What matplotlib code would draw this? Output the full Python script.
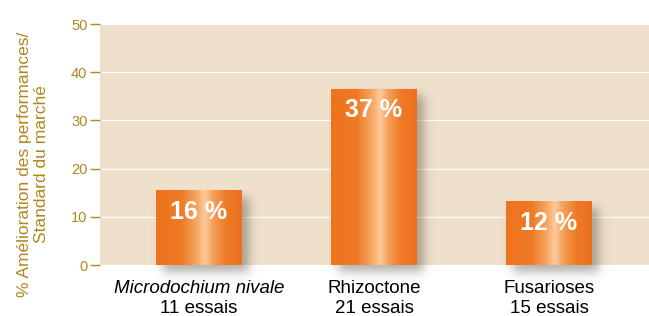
import numpy as np
import matplotlib.pyplot as plt
from matplotlib.colors import LinearSegmentedColormap

# Données
categories = ['Microdochium nivale', 'Rhizoctone', 'Fusarioses']
essais = ['11 essais', '21 essais', '15 essais']
hauteurs = [15.5, 36.5, 13.2]
etiquettes = ['16 %', '37 %', '12 %']
yticks = [0, 10, 20, 30, 40, 50]

plt.rcParams['font.family'] = ['Liberation Sans', 'DejaVu Sans']
or_fonce = '#b3861f'
fond = '#eee0cb'

fig = plt.figure(figsize=(6.49, 3.16), dpi=100)
ax = fig.add_axes([0.154, 0.161, 0.846, 0.763])
ax.set_facecolor(fond)

x = np.arange(len(categories))
largeur = 0.49
xlim = (-0.566, 2.571)
ylim = (0, 50)

# Dégradé orange des barres
cmap = LinearSegmentedColormap.from_list('orange', [
    (0.0, '#ee731e'), (0.30, '#ef7a26'), (0.48, '#f6a864'),
    (0.57, '#fdcb9e'), (0.66, '#f5a25c'), (0.82, '#ef7a26'), (1.0, '#ec7020')])
grad = np.linspace(0, 1, 256).reshape(1, -1)

# unités par pixel
px_x = (xlim[1] - xlim[0]) / (0.846 * 649)
px_y = (ylim[1] - ylim[0]) / (0.763 * 316)

barres = ax.bar(x, hauteurs, largeur, color='none', zorder=3)
for xi, h, b in zip(x, hauteurs, barres):
    x0, x1 = xi - largeur / 2, xi + largeur / 2
    # ombre portée floue
    dx, dy, s = 7 * px_x, 7 * px_y, 6
    gx = np.linspace(x0 - 10 * px_x, x1 + 30 * px_x, 200)
    gy = np.linspace(-30 * px_y, h, 200)
    ax_ = 0.5 * (np.tanh((gx - (x0 + dx)) / (s * px_x)) - np.tanh((gx - (x1 + dx)) / (s * px_x)))
    ay_ = 0.5 * (np.tanh((gy - (0 - dy)) / (s * px_y)) - np.tanh((gy - (h - dy)) / (s * px_y)))
    alpha = np.outer(ay_, ax_) * 0.45
    ombre = np.zeros((200, 200, 4))
    ombre[..., :3] = np.array([0.33, 0.30, 0.26])
    ombre[..., 3] = alpha
    ax.imshow(ombre, extent=[gx[0], gx[-1], gy[0], gy[-1]], origin='lower',
              aspect='auto', zorder=2, clip_on=False, interpolation='bilinear')
    im = ax.imshow(grad, extent=[x0, x1, 0, h], aspect='auto', cmap=cmap,
                   zorder=3, interpolation='bilinear')
    im.set_clip_path(b)

for xi, h, t in zip(x, hauteurs, etiquettes):
    ax.text(xi, h - 4.4, t, ha='center', va='center', color='white',
            fontsize=18, fontweight='bold', zorder=5)

ax.set_xlim(*xlim)
ax.set_ylim(*ylim)
ax.set_yticks(yticks)
ax.yaxis.grid(True, color='white', lw=0.9)
ax.set_axisbelow(True)
ax.tick_params(axis='y', colors=or_fonce, length=7, width=1, labelsize=10.5, pad=2)
ax.set_xticks([])
for sp in ax.spines.values():
    sp.set_visible(False)

tr = ax.get_xaxis_transform()
for i, (c, e) in enumerate(zip(categories, essais)):
    ax.text(x[i], -0.095, c, transform=tr, ha='center', va='center',
            fontsize=13.5, style='italic' if i == 0 else 'normal', color='black')
    ax.text(x[i], -0.178, e, transform=tr, ha='center', va='center',
            fontsize=13.5, color='black')

fig.text(33 / 649, 1 - 164 / 316, '% Amélioration des performances/\nStandard du marché',
         rotation=90, ha='center', va='center', multialignment='center',
         fontsize=12.5, color=or_fonce, linespacing=1.15)

fig.savefig('out.png', dpi=100)
